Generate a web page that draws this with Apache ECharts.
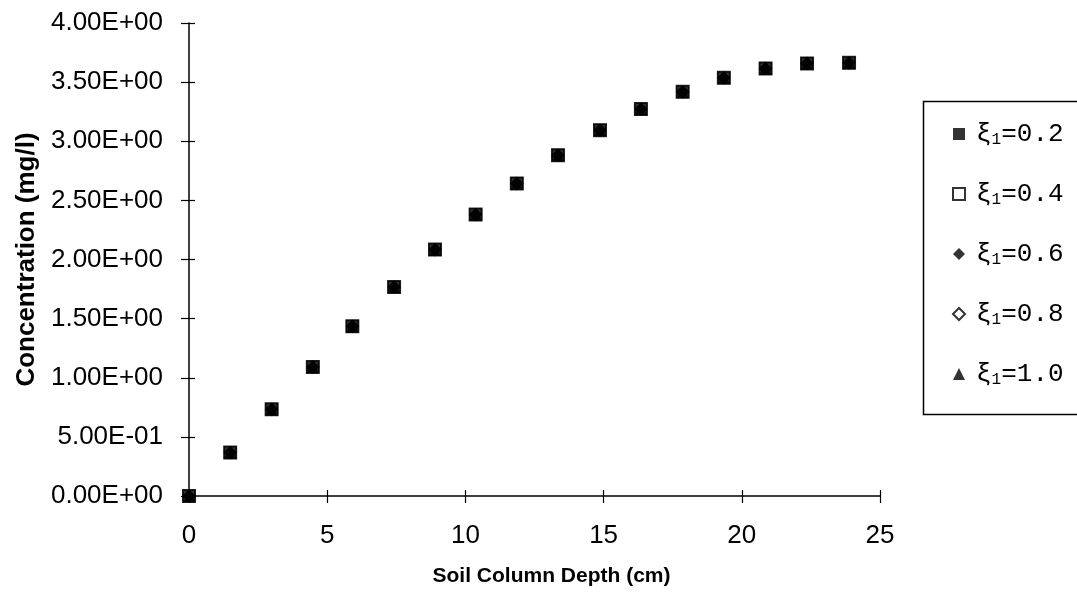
<!DOCTYPE html>
<html>
<head>
<meta charset="utf-8">
<script src="https://cdn.jsdelivr.net/npm/echarts@6/dist/echarts.min.js"></script>
<style>html,body{margin:0;padding:0;background:#fff;}#c{width:1077px;height:597px;}</style>
</head>
<body>
<div id="c"></div>
<script>
// Data
const depth = [0, 1.49, 2.99, 4.48, 5.91, 7.42, 8.90, 10.37, 11.86, 13.35, 14.87, 16.35, 17.86, 19.35, 20.86, 22.36, 23.88];
const concXi02 = [0, 0.367, 0.733, 1.091, 1.435, 1.767, 2.084, 2.380, 2.643, 2.882, 3.094, 3.272, 3.418, 3.536, 3.616, 3.658, 3.663];
const concXi04 = [0, 0.367, 0.733, 1.091, 1.435, 1.767, 2.084, 2.380, 2.643, 2.882, 3.094, 3.272, 3.418, 3.536, 3.616, 3.658, 3.663];
const concXi06 = [0, 0.367, 0.733, 1.091, 1.435, 1.767, 2.084, 2.380, 2.643, 2.882, 3.094, 3.272, 3.418, 3.536, 3.616, 3.658, 3.663];
const concXi08 = [0, 0.367, 0.733, 1.091, 1.435, 1.767, 2.084, 2.380, 2.643, 2.882, 3.094, 3.272, 3.418, 3.536, 3.616, 3.658, 3.663];
const concXi10 = [0, 0.367, 0.733, 1.091, 1.435, 1.767, 2.084, 2.380, 2.643, 2.882, 3.094, 3.272, 3.418, 3.536, 3.616, 3.658, 3.663];
const seriesNames = ['0.2', '0.4', '0.6', '0.8', '1.0'];
const yTickLabels = ['0.00E+00', '5.00E-01', '1.00E+00', '1.50E+00', '2.00E+00', '2.50E+00', '3.00E+00', '3.50E+00', '4.00E+00'];
const xTickLabels = ['0', '5', '10', '15', '20', '25'];

const pairs = arr => depth.map((d, i) => [d, arr[i]]);
const chart = echarts.init(document.getElementById('c'), null, {renderer: 'canvas'});
const grid = {left: 189, right: 197, top: 23, bottom: 101, containLabel: false};
const baseFont = 'Liberation Sans, Arial, sans-serif';
const monoFont = 'Liberation Mono, Courier New, monospace';

const symbolDefs = [
  {symbol: 'rect', size: 13, z: 4},
  {symbol: 'emptyRect', size: 12, z: 2},
  {symbol: 'diamond', size: 12, z: 5},
  {symbol: 'emptyDiamond', size: 11, z: 3},
  {symbol: 'triangle', size: 12, z: 6}
];
const seriesData = [concXi02, concXi04, concXi06, concXi08, concXi10];

chart.setOption({
  backgroundColor: '#ffffff',
  animation: false,
  grid: grid,
  xAxis: [
    {
      type: 'value', min: 0, max: 25, interval: 5,
      name: 'Soil Column Depth (cm)', nameLocation: 'middle', nameGap: 70,
      nameTextStyle: {fontFamily: baseFont, fontWeight: 'bold', fontSize: 21, color: '#000', padding: [0, 0, 0, 34]},
      axisLine: {show: true, onZero: false, lineStyle: {color: '#000', width: 1.5}},
      axisTick: {show: true, inside: false, length: 7, lineStyle: {color: '#000', width: 1.2}},
      axisLabel: {margin: 27, fontFamily: baseFont, fontSize: 26, color: '#000',
        formatter: (v) => xTickLabels[Math.round(v / 5)]},
      splitLine: {show: false}
    },
    {
      type: 'value', min: 0, max: 25, interval: 5, position: 'bottom',
      axisLine: {show: false},
      axisTick: {show: true, inside: true, length: 6, lineStyle: {color: '#000', width: 1.2}},
      axisLabel: {show: false}, splitLine: {show: false}
    }
  ],
  yAxis: [
    {
      type: 'value', min: 0, max: 4, interval: 0.5,
      name: 'Concentration (mg/l)', nameLocation: 'middle', nameGap: 147, nameRotate: 90,
      nameTextStyle: {fontFamily: baseFont, fontWeight: 'bold', fontSize: 26, color: '#000'},
      axisLine: {show: true, onZero: false, lineStyle: {color: '#000', width: 1.5}},
      axisTick: {show: true, inside: false, length: 8, lineStyle: {color: '#000', width: 1.2}},
      axisLabel: {margin: 26, fontFamily: baseFont, fontSize: 26, color: '#000',
        formatter: (v) => yTickLabels[Math.round(v / 0.5)]},
      splitLine: {show: false}
    },
    {
      type: 'value', min: 0, max: 4, interval: 0.5, position: 'left',
      axisLine: {show: false},
      axisTick: {show: true, inside: true, length: 6, lineStyle: {color: '#000', width: 1.2}},
      axisLabel: {show: false}, splitLine: {show: false}
    }
  ],
  legend: {
    orient: 'vertical', left: 947, top: 115,
    itemWidth: 12, itemHeight: 12, itemGap: 32,
    data: seriesNames.map(n => 'ξ1=' + n),
    formatter: (name) => '{a|ξ}{s|1}{a|' + name.slice(2) + '}',
    textStyle: {
      fontFamily: monoFont, fontSize: 26, color: '#000',
      padding: [0, 0, 0, 6],
      rich: {
        a: {fontFamily: monoFont, fontSize: 26, lineHeight: 28, color: '#000'},
        s: {fontFamily: monoFont, fontSize: 16, lineHeight: 16, color: '#000', padding: [12, 0, 0, 0]}
      }
    }
  },
  graphic: [
    {type: 'rect', left: 921, top: 99, shape: {width: 200, height: 313},
     style: {fill: 'none', stroke: '#000', lineWidth: 1.5}, z: 0}
  ],
  series: seriesNames.map((n, i) => ({
    name: 'ξ1=' + n,
    type: 'scatter',
    xAxisIndex: 0, yAxisIndex: 0,
    symbol: symbolDefs[i].symbol,
    symbolSize: symbolDefs[i].size,
    z: symbolDefs[i].z,
    itemStyle: {color: '#000', borderColor: '#000', borderWidth: symbolDefs[i].symbol.startsWith('empty') ? 1.5 : 0},
    data: pairs(seriesData[i])
  }))
});
</script>
</body>
</html>
